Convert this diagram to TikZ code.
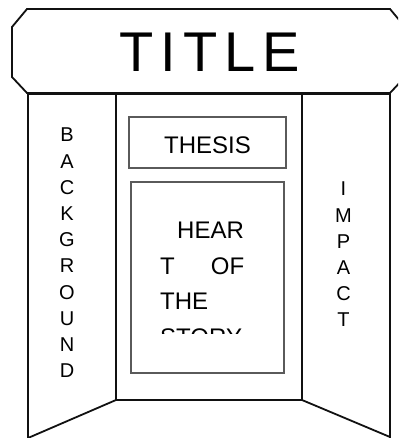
\documentclass[tikz,border=0pt]{standalone}
\usepackage{fontspec}
\setmainfont{Liberation Sans}
\usepackage{xcolor}
\usetikzlibrary{positioning}
\definecolor{BoardLine}{HTML}{111111}
\definecolor{BoxGray}{HTML}{5A5A5A}

\begin{document}
\begin{tikzpicture}[
    x=1pt, y=-1pt,
    board/.style={draw=BoardLine, line width=1.8pt, line join=miter},
    inbox/.style={draw=BoxGray, line width=1.2pt, inner sep=0pt},
    stacked/.style={align=center, inner sep=0pt, font=\fontsize{20}{26.2}\selectfont}
  ]
    \useasboundingbox (0,0) rectangle (398,438);
    \begin{scope}
      \clip (0,0) rectangle (398,438);
      % banner
      \draw[board, fill=white] (27,9) -- (390,9) -- (405,27) -- (405,77) -- (390,93)
        -- (27,93) -- (12,77) -- (12,27) -- cycle;
      % side panels and centre board
      \draw[board] (28,94) -- (116,94) -- (116,400) -- (28,438) -- cycle;
      \draw[board] (116,94) rectangle (302,400);
      \draw[board] (302,94) -- (390,94) -- (390,440) -- (390,437) -- (302,400) -- cycle;
    \end{scope}

    \node[anchor=base, inner sep=0pt, font=\fontsize{56}{60}\selectfont]
      (title) at (210,72) {T\kern7pt I\kern7pt T\kern7pt L\kern7pt E};

    \node[inbox, minimum width=157pt, minimum height=51pt] (thesis) at (207.5,142.5) {};
    \node[anchor=base, inner sep=0pt, font=\fontsize{24}{28}\selectfont]
      (thesislabel) at (207.5,154) {THESIS};

    \node[inbox, minimum width=153pt, minimum height=191pt] (heart) at (207.5,277.5) {};
    \begin{scope}
      \clip (143,208) rectangle (272,333);
      \node[anchor=north west, inner sep=0pt, align=left,
        font=\fontsize{24}{35.5}\selectfont] (story) at (160,221.8)
        {\hspace*{17pt}HEAR\\T\hspace*{36pt}OF\\THE\\STORY};
    \end{scope}

    \node[stacked] (background) at (67,253) {B\\A\\C\\K\\G\\R\\O\\U\\N\\D};
    \node[stacked] (impact) at (343.5,254.5) {I\\M\\P\\A\\C\\T};
\end{tikzpicture}
\end{document}
